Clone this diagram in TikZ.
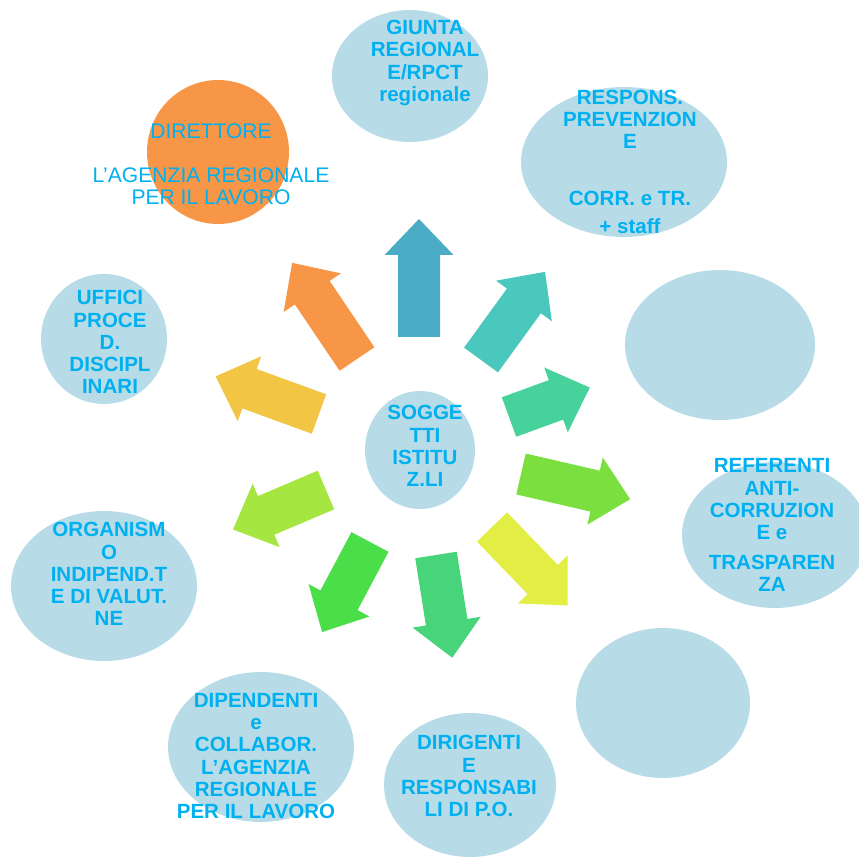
\documentclass[tikz,border=0pt]{standalone}
\usepackage{fontspec}
\setmainfont{Liberation Sans}
\usetikzlibrary{shapes.geometric}

\definecolor{bubblefill}{HTML}{B7DCE7}
\definecolor{labeltext}{HTML}{00B0F0}
\definecolor{chieforange}{HTML}{F79646}
\definecolor{arrowA}{HTML}{4BACC6}
\definecolor{arrowB}{HTML}{4BC8BE}
\definecolor{arrowC}{HTML}{48D29B}
\definecolor{arrowD}{HTML}{7BE03F}
\definecolor{arrowE}{HTML}{E3EE45}
\definecolor{arrowF}{HTML}{47D47B}
\definecolor{arrowG}{HTML}{4ADE48}
\definecolor{arrowH}{HTML}{A6E640}
\definecolor{arrowI}{HTML}{F2C545}
\definecolor{arrowJ}{HTML}{F79646}

\tikzset{
  bubble/.style={ellipse, fill=bubblefill, inner sep=0pt},
  lbl/.style={align=center, text=labeltext, font=\bfseries\fontsize{11.7}{12.6}\selectfont},
}

\begin{document}
\begin{tikzpicture}[x=0.02cm, y=-0.02cm]
\useasboundingbox (0,0) rectangle (859,858);

% Arrow sizes: shaft half width, head half width, head length
\def\sw{21}
\def\hw{34.5}
\def\hl{36}

% Block arrows round the hub: base x / base y / angle / length / colour
\foreach \bx/\by/\ang/\len/\col in {
    419/337/90/118/arrowA, 481/360/54/109/arrowB, 509/417/20/86/arrowC,
    521/474/-13/112/arrowD, 492/527/-46/109/arrowE, 436/555/-81/104/arrowF,
    370/542/-118/102/arrowG, 326/490/203/101/arrowH, 319/414/160/110/arrowI,
    357/359/124/116/arrowJ}
{
  \begin{scope}[shift={(\bx,\by)}, x=0.02cm, y=0.02cm, rotate=\ang]
    \fill[\col] (0,-\sw) -- (\len-\hl,-\sw) -- (\len-\hl,-\hw) -- (\len,0)
      -- (\len-\hl,\hw) -- (\len-\hl,\sw) -- (0,\sw) -- cycle;
  \end{scope}
}

% Bubbles
\node[bubble, minimum width=2.2cm, minimum height=2.36cm] (hub) at (420,450) {};
\node[ellipse, fill=chieforange, minimum width=2.84cm, minimum height=2.88cm] (direttore) at (218,152) {};
\node[bubble, minimum width=3.12cm, minimum height=2.64cm] (giunta) at (410,76) {};
\node[bubble, minimum width=4.12cm, minimum height=3cm] (respons) at (624,162) {};
\node[bubble, minimum width=3.8cm, minimum height=3cm] (emptyA) at (720,345) {};
\node[bubble, minimum width=3.72cm, minimum height=2.92cm] (referenti) at (775,535) {};
\node[bubble, minimum width=3.48cm, minimum height=3cm] (emptyB) at (663,703) {};
\node[bubble, minimum width=3.44cm, minimum height=2.88cm] (dirigenti) at (470,785) {};
\node[bubble, minimum width=3.72cm, minimum height=3cm] (dipendenti) at (261,747) {};
\node[bubble, minimum width=3.72cm, minimum height=3cm] (organismo) at (104,586) {};
\node[bubble, minimum width=2.52cm, minimum height=2.6cm] (uffici) at (104,339) {};

% Labels
\node[lbl] (hubtxt) at (425,446) {SOGGE\\TTI\\ISTITU\\Z.LI};
\node[align=center, text=labeltext, font=\fontsize{12}{12.2}\selectfont] (direttoretxt) at (211,164)
  {DIRETTORE\\[13pt]L’AGENZIA REGIONALE\\PER IL LAVORO};
\node[lbl] (giuntatxt) at (425,63) {GIUNTA\\REGIONAL\\E/RPCT\\regionale};
\node[lbl] (responstxt) at (630,162) {RESPONS.\\PREVENZION\\E\\[20pt]CORR. e TR.\\[3.4pt]+ staff};
\node[lbl] (referentitxt) at (772,525) {REFERENTI\\ANTI-\\CORRUZION\\E e\\[4.4pt]TRASPAREN\\ZA};
\node[lbl] (dirigentitxt) at (469,776) {DIRIGENTI\\E\\RESPONSABI\\LI DI P.O.};
\node[lbl] (dipendentitxt) at (256,756) {DIPENDENTI\\e\\COLLABOR.\\L’AGENZIA\\REGIONALE\\PER IL LAVORO};
\node[lbl] (organismotxt) at (109,574) {ORGANISM\\O\\INDIPEND.T\\E DI VALUT.\\NE};
\node[lbl] (uffIcitxt) at (110,342) {UFFICI\\PROCE\\D.\\DISCIPL\\INARI};

\end{tikzpicture}
\end{document}
